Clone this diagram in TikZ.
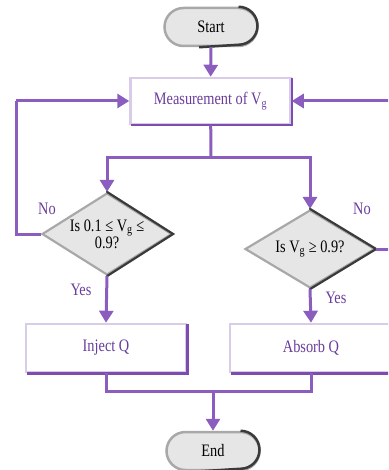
\documentclass[tikz,border=0pt]{standalone}
\usepackage{fontspec}
\setmainfont{Liberation Serif}[FakeStretch=0.82]
\usetikzlibrary{shapes.geometric,shapes.misc,arrows.meta}
\definecolor{lnpurple}{HTML}{8A5DBE}
\definecolor{txpurple}{HTML}{6A3D9C}
\definecolor{bxlight}{HTML}{D8CCE8}
\definecolor{bxdark}{HTML}{7C4CAE}
\definecolor{gfill}{HTML}{E6E6E6}
\definecolor{glight}{HTML}{A8A8A8}
\definecolor{gdark}{HTML}{3A3A3A}
\tikzset{
  x=1pt, y=-1pt,
  every node/.style={font=\fontsize{17.5}{17}\selectfont},
  pill/.style={rounded rectangle, fill=gfill, draw=glight, line width=2.5pt, minimum width=93pt, minimum height=38pt, inner sep=0pt},
  procbox/.style={rectangle, fill=white, draw=bxlight, line width=2.5pt, text=txpurple, inner sep=0pt},
  decide/.style={diamond, fill=gfill, draw=glight, line width=2.2pt, aspect=1.6, inner sep=0pt, align=center},
  conn/.style={draw=lnpurple, line width=3pt},
  arr/.style={conn, -{Triangle[width=14pt,length=12pt]}},
  lbl/.style={text=txpurple, inner sep=0pt}
}
\begin{document}
\begin{tikzpicture}
\useasboundingbox (0,0) rectangle (388,470);
\begin{scope}
\clip (0,0) rectangle (388,470);
% nodes
\node[pill] (start) at (211,27) {Start};
\node[procbox, minimum width=160pt, minimum height=46pt] (meas) at (210.5,101) {Measurement of V\textsubscript{g}};
\node[decide, minimum width=130pt, minimum height=82pt] (d1) at (107,234) {Is 0.1 ≤ V\textsubscript{g} ≤\\0.9?};
\node[decide, minimum width=130pt, minimum height=78pt] (d2) at (310,249) {Is V\textsubscript{g} ≥ 0.9?};
\node[procbox, minimum width=160pt, minimum height=48pt] (inj) at (106,348) {Inject Q};
\node[procbox, minimum width=162pt, minimum height=48pt] (abs) at (311,348) {Absorb Q};
\node[pill] (end) at (213,451) {End};
% darker right/bottom edges
\foreach \b in {meas,inj,abs}{
  \draw[bxdark, line width=2.5pt] ([yshift=-1pt]\b.north east) -- (\b.south east) -- ([xshift=2pt]\b.south west);
}
\foreach \d in {d1,d2}{
  \draw[gdark, line width=2.2pt, line cap=round] (\d.north) -- (\d.east) -- (\d.south);
}
\foreach \p in {start,end}{
  \draw[gdark, line width=2.5pt] (\p.north east) arc[start angle=90, end angle=-90, radius=19pt] -- ([xshift=-12pt]\p.south);
}
% coordinates
\coordinate (split) at (211,158);
\coordinate (lx) at (16,101);
\coordinate (rx) at (394,101);
\coordinate (merge) at (213,391);
% connectors
\draw[arr] (start) -- (meas);
\draw[conn] (meas) -- (split);
\draw[arr] (split) -| (d1.north);
\draw[arr] (split) -| (d2.north);
\draw[conn] (d1.west) -| (lx);
\draw[arr] (lx) -- (meas.west);
\draw[conn] (d2.east) -| (rx);
\draw[arr] (rx) -- (meas.east);
\draw[arr] (d1.south) -- (inj.north);
\draw[arr] (d2.south) -- (abs.north);
\draw[conn] (inj.south) |- (merge) -| (abs.south);
\draw[arr] (merge) -- (end.north);
% labels
\node[lbl] (no1) at (47,209) {No};
\node[lbl] (no2) at (362,209) {No};
\node[lbl] (yes1) at (81,290) {Yes};
\node[lbl] (yes2) at (336,298) {Yes};
\end{scope}
\end{tikzpicture}
\end{document}
